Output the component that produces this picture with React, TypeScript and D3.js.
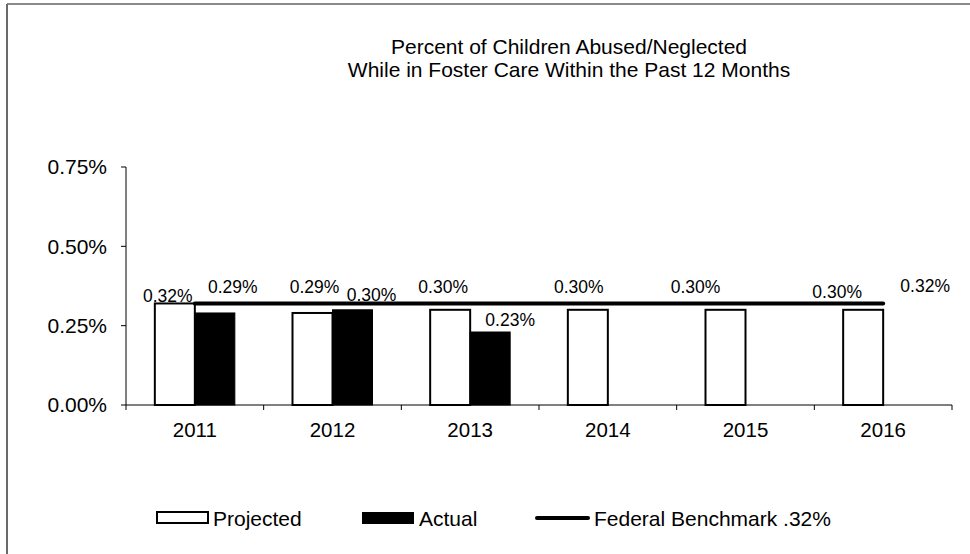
import React from "react";
import * as d3 from "d3";

const years = ["2011", "2012", "2013", "2014", "2015", "2016"];
const projected = [0.32, 0.29, 0.30, 0.30, 0.30, 0.30];
const actual: (number | null)[] = [0.29, 0.30, 0.23, null, null, null];
const benchmark = 0.32;
const yTicks = [0, 0.25, 0.5, 0.75];
const titleLines = [
  "Percent of Children Abused/Neglected",
  "While in Foster Care Within the Past 12 Months",
];
const legendLabels = ["Projected", "Actual", "Federal Benchmark .32%"];
// label nudges (px) relative to bar top-centre
const projLabelOffset = [
  [-7, -8], [2, -26], [-7, -23], [-9, -23], [-30, -23], [-26, -18],
];
const actLabelOffset = [
  [18, -26], [19, -15], [20, -12],
];

const W = 970;
const H = 554;
const FONT = "'Liberation Sans', Arial, sans-serif";

export default function App() {
  const x = d3.scaleBand<string>().domain(years).range([126, 952]).padding(0);
  const y = d3.scaleLinear().domain([0, 0.75]).range([405, 167]);
  const barW = 40;
  const fmt = (v: number) => v.toFixed(2) + "%";
  const center = (yr: string) => (x(yr) as number) + x.bandwidth() / 2;

  const line = d3
    .line<string>()
    .x((d) => center(d))
    .y(() => y(benchmark));

  const lastYear = years[years.length - 1];

  return (
    <svg
      width={W}
      height={H}
      style={{ position: "absolute", left: 0, top: 0, background: "#fff" }}
      fontFamily={FONT}
    >
      {/* frame */}
      <line x1={7} y1={4} x2={W} y2={4} stroke="#8a8a8a" strokeWidth={2} />
      <line x1={7} y1={4} x2={7} y2={H} stroke="#6a6a6a" strokeWidth={2} />

      {/* title */}
      {titleLines.map((t, i) => (
        <text
          key={i}
          x={569}
          y={54 + i * 23}
          textAnchor="middle"
          fontSize={21}
          fill="#000"
        >
          {t}
        </text>
      ))}

      {/* y axis */}
      <line x1={126} y1={y(0.75)} x2={126} y2={y(0)} stroke="#000" strokeWidth={1} />
      {yTicks.map((t) => (
        <g key={t}>
          <line x1={121} x2={126} y1={y(t)} y2={y(t)} stroke="#000" />
          <text
            x={107}
            y={y(t)}
            dy="0.35em"
            textAnchor="end"
            fontSize={21}
            fill="#000"
          >
            {fmt(t)}
          </text>
        </g>
      ))}

      {/* bars */}
      {years.map((yr, i) => (
        <g key={yr}>
          <rect
            x={center(yr) - barW}
            y={y(projected[i])}
            width={barW}
            height={y(0) - y(projected[i])}
            fill="#fff"
            stroke="#000"
            strokeWidth={2}
          />
          {actual[i] != null && (
            <rect
              x={center(yr)}
              y={y(actual[i] as number)}
              width={barW}
              height={y(0) - y(actual[i] as number)}
              fill="#000"
              stroke="#000"
              strokeWidth={1}
            />
          )}
        </g>
      ))}

      {/* x axis */}
      <line x1={126} x2={952} y1={y(0)} y2={y(0)} stroke="#000" />
      {years.map((yr) => (
        <line
          key={"t" + yr}
          x1={x(yr) as number}
          x2={x(yr) as number}
          y1={y(0)}
          y2={y(0) + 5}
          stroke="#000"
        />
      ))}
      <line x1={952} x2={952} y1={y(0)} y2={y(0) + 5} stroke="#000" />
      {years.map((yr) => (
        <text
          key={"l" + yr}
          x={center(yr)}
          y={437}
          textAnchor="middle"
          fontSize={20.5}
          fill="#000"
        >
          {yr}
        </text>
      ))}

      {/* benchmark line */}
      <path
        d={line(years) || ""}
        fill="none"
        stroke="#000"
        strokeWidth={4}
        strokeLinecap="round"
      />

      {/* data labels */}
      {years.map((yr, i) => (
        <text
          key={"p" + yr}
          x={center(yr) - barW / 2 + projLabelOffset[i][0]}
          y={y(projected[i]) + projLabelOffset[i][1]}
          dy="0.35em"
          textAnchor="middle"
          fontSize={17.5}
          fill="#000"
        >
          {fmt(projected[i])}
        </text>
      ))}
      {years.map((yr, i) =>
        actual[i] != null ? (
          <text
            key={"a" + yr}
            x={center(yr) + barW / 2 + actLabelOffset[i][0]}
            y={y(actual[i] as number) + actLabelOffset[i][1]}
            dy="0.35em"
            textAnchor="middle"
            fontSize={17.5}
            fill="#000"
          >
            {fmt(actual[i] as number)}
          </text>
        ) : null
      )}
      <text
        x={center(lastYear) + 42}
        y={y(benchmark) - 18}
        dy="0.35em"
        textAnchor="middle"
        fontSize={17.5}
        fill="#000"
      >
        {fmt(benchmark)}
      </text>

      {/* legend */}
      <rect x={157} y={512} width={51} height={11} fill="#fff" stroke="#000" strokeWidth={2} />
      <text x={213} y={526} fontSize={21} fill="#000">{legendLabels[0]}</text>
      <rect x={362} y={512} width={52} height={12} fill="#000" />
      <text x={419} y={526} fontSize={21} fill="#000">{legendLabels[1]}</text>
      <line x1={537} x2={588} y1={518} y2={518} stroke="#000" strokeWidth={4} strokeLinecap="round" />
      <text x={594} y={526} fontSize={21} fill="#000">{legendLabels[2]}</text>
    </svg>
  );
}
